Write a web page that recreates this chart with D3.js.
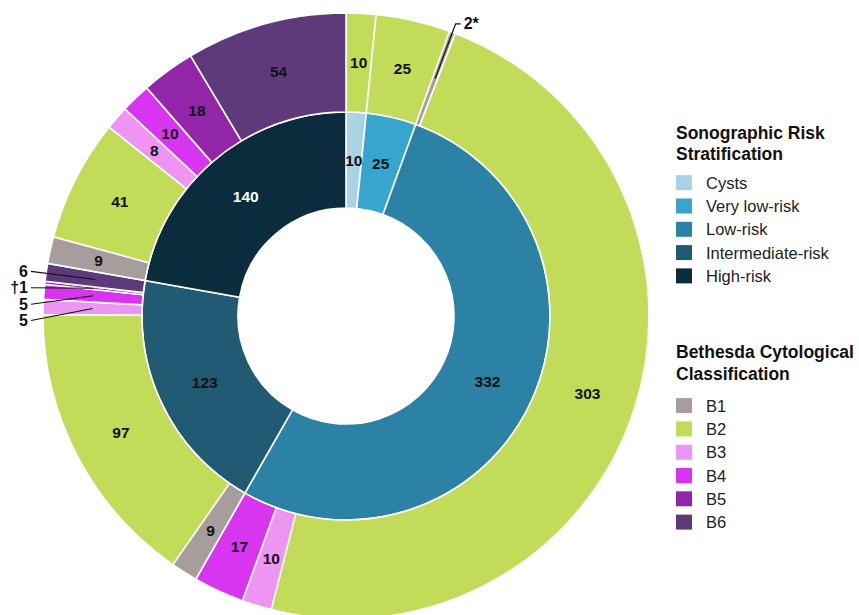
<!DOCTYPE html>
<html>
<head>
<meta charset="utf-8">
<script src="https://cdn.jsdelivr.net/npm/d3@7"></script>
<style>
  html, body { margin: 0; padding: 0; background: #fff; }
  svg { display: block; font-family: "Liberation Sans", Arial, sans-serif; }
</style>
</head>
<body>
<svg id="chart" width="859" height="615"></svg>
<script>
// Sonographic risk categories (inner ring)
const riskCategories = ["Cysts", "Very low-risk", "Low-risk", "Intermediate-risk", "High-risk"];
const riskCounts = [10, 25, 332, 123, 140];

// Bethesda classes (outer ring), counts per risk category in B1..B6 order
const bethesdaClasses = ["B1", "B2", "B3", "B4", "B5", "B6"];
const cystsByClass        = [0, 10, 0, 0, 0, 0];
const veryLowByClass      = [0, 25, 0, 0, 0, 0];
const lowByClass          = [2, 303, 10, 17, 0, 0];
const intermediateByClass = [9, 97, 5, 5, 1, 6];
const highByClass         = [9, 41, 8, 10, 18, 54];

// Footnote marks attached to particular counts
const footnotes = [
  { risk: "Low-risk", cls: "B1", text: "2*" },
  { risk: "Intermediate-risk", cls: "B5", text: "\u20201" }
];

const riskColors = ["#a9d3e5", "#37a6cf", "#2b82a5", "#215a73", "#0b2c3c"];
const classColors = ["#a89d9d", "#c2dc5a", "#ee95f4", "#d735ef", "#9127a8", "#5f3a7b"];

const svg = d3.select("#chart");
const cx = 346, cy = 316;
const rHole = 108, rMid = 204, rOuter = 303;
const labelSize = 15.5;

const byRisk = [cystsByClass, veryLowByClass, lowByClass, intermediateByClass, highByClass];
const outerData = [];
byRisk.forEach((counts, i) => {
  counts.forEach((v, j) => {
    if (v > 0) outerData.push({ risk: riskCategories[i], cls: bethesdaClasses[j], ci: j, value: v });
  });
});

const pie = d3.pie().sort(null).value(d => d.value).startAngle(0).endAngle(2 * Math.PI);
const innerArcs = pie(riskCategories.map((r, i) => ({ risk: r, i, value: riskCounts[i] })));
const outerArcs = pie(outerData);

const innerArc = d3.arc().innerRadius(rHole).outerRadius(rMid);
const outerArc = d3.arc().innerRadius(rMid).outerRadius(rOuter);

const g = svg.append("g").attr("transform", `translate(${cx},${cy})`);

// Inner ring
g.append("g").selectAll("path").data(innerArcs).join("path")
  .attr("d", innerArc)
  .attr("fill", d => riskColors[d.data.i])
  .attr("stroke", "#fff").attr("stroke-width", 1.6);

// Outer ring
g.append("g").selectAll("path").data(outerArcs).join("path")
  .attr("d", outerArc)
  .attr("fill", d => classColors[d.data.ci])
  .attr("stroke", "#fff").attr("stroke-width", 1.6);

const labelFor = d => {
  const f = footnotes.find(n => n.risk === d.risk && n.cls === d.cls);
  return f ? f.text : String(d.value);
};

// Inner ring labels
const innerLabelArc = d3.arc().innerRadius((rHole + rMid) / 2).outerRadius((rHole + rMid) / 2);
g.append("g").selectAll("text").data(innerArcs).join("text")
  .attr("transform", d => `translate(${innerLabelArc.centroid(d)})`)
  .attr("text-anchor", "middle").attr("dominant-baseline", "central")
  .attr("font-size", labelSize).attr("font-weight", "bold")
  .attr("fill", d => d.data.i === 4 ? "#fff" : "#111")
  .text(d => d.data.value);

// Outer ring labels: in-slice for wide slices, leader lines for narrow ones
const midR = (rMid + rOuter) / 2;
const outerLabelArc = d3.arc().innerRadius(midR).outerRadius(midR);
const isSmall = d => d.data.value <= 6;

g.append("g").selectAll("text").data(outerArcs.filter(d => !isSmall(d))).join("text")
  .attr("transform", d => `translate(${outerLabelArc.centroid(d)})`)
  .attr("text-anchor", "middle").attr("dominant-baseline", "central")
  .attr("font-size", labelSize).attr("font-weight", "bold").attr("fill", "#111")
  .text(d => labelFor(d.data));

const small = outerArcs.filter(isSmall).map(d => {
  const a = (d.startAngle + d.endAngle) / 2;
  return { d, a, x: midR * Math.sin(a), y: -midR * Math.cos(a) };
});

const callouts = g.append("g");

// Right-hand callouts: radial line with a short elbow
small.filter(s => s.a < Math.PI).forEach(s => {
  const r2 = rOuter + 9;
  const x2 = r2 * Math.sin(s.a), y2 = -r2 * Math.cos(s.a);
  callouts.append("path")
    .attr("d", `M${s.x},${s.y}L${x2},${y2}L${x2 + 5},${y2}`)
    .attr("fill", "none").attr("stroke", "#111").attr("stroke-width", 1.2);
  callouts.append("text")
    .attr("x", x2 + 8).attr("y", y2)
    .attr("dominant-baseline", "central")
    .attr("font-size", 16).attr("font-weight", "bold").attr("fill", "#111")
    .text(labelFor(s.d.data));
});

// Left-hand callouts: stacked in a column beyond the ring
const left = small.filter(s => s.a >= Math.PI).sort((p, q) => p.y - q.y);
const gap = 16.4;
const meanY = d3.mean(left, s => s.y) + 3;
const colX = -rOuter - 12;
left.forEach((s, i) => {
  const ly = meanY + (i - (left.length - 1) / 2) * gap;
  callouts.append("line")
    .attr("x1", colX).attr("y1", ly).attr("x2", s.x).attr("y2", s.y)
    .attr("stroke", "#111").attr("stroke-width", 1.1);
  callouts.append("text")
    .attr("x", colX - 3).attr("y", ly)
    .attr("text-anchor", "end").attr("dominant-baseline", "central")
    .attr("font-size", 16).attr("font-weight", "bold").attr("fill", "#111")
    .text(labelFor(s.d.data));
});

// Legends
function legend(x, y, titleLines, names, colors, itemOffset) {
  const lg = svg.append("g").attr("transform", `translate(${x},${y})`);
  lg.selectAll("text.title").data(titleLines).join("text")
    .attr("class", "title")
    .attr("x", 0).attr("y", (d, i) => i * 21.5)
    .attr("font-size", 17.5).attr("font-weight", "bold").attr("fill", "#111")
    .text(d => d);
  const items = lg.selectAll("g.item").data(names).join("g")
    .attr("class", "item")
    .attr("transform", (d, i) => `translate(0,${itemOffset + i * 23.3})`);
  items.append("rect")
    .attr("x", 0).attr("y", -7.5).attr("width", 16).attr("height", 15)
    .attr("fill", (d, i) => colors[i]);
  items.append("text")
    .attr("x", 30).attr("y", 0).attr("dominant-baseline", "central")
    .attr("font-size", 16.5).attr("fill", "#222")
    .text(d => d);
}

legend(676, 138.5, ["Sonographic Risk", "Stratification"], riskCategories, riskColors, 44.2);
legend(676, 358, ["Bethesda Cytological", "Classification"], bethesdaClasses, classColors, 47.6);
</script>
</body>
</html>
